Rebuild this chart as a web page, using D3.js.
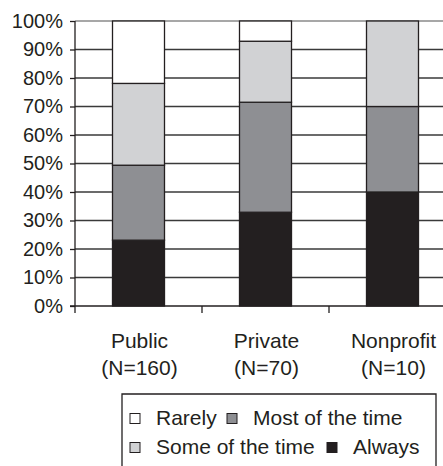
<!DOCTYPE html>
<html>
<head>
<meta charset="utf-8">
<script src="https://cdn.jsdelivr.net/npm/d3@7"></script>
<style>
  html, body { margin: 0; padding: 0; background: #fff; }
  svg text { font-family: "Liberation Sans", Arial, Helvetica, sans-serif; fill: #231f20; }
</style>
</head>
<body>
<svg id="chart" width="443" height="466"></svg>
<script>
// Sectors surveyed and their respondent counts
const categories = ["Public", "Private", "Nonprofit"];
const sampleSizes = ["(N=160)", "(N=70)", "(N=10)"];

// Share of respondents per answer (percent), stacked bottom to top
const always        = [23.1, 32.9, 40];
const mostOfTheTime = [26.3, 38.6, 30];
const someOfTheTime = [28.7, 21.4, 30];
const rarely        = [21.9, 7.1, 0];

const yTicks = [0, 10, 20, 30, 40, 50, 60, 70, 80, 90, 100];

const seriesKeys = ["Always", "Most of the time", "Some of the time", "Rarely"];
const seriesColors = {
  "Always": "#231f20",
  "Most of the time": "#8e8f93",
  "Some of the time": "#d1d2d4",
  "Rarely": "#ffffff"
};

const rows = categories.map((c, i) => ({
  category: c,
  "Always": always[i],
  "Most of the time": mostOfTheTime[i],
  "Some of the time": someOfTheTime[i],
  "Rarely": rarely[i]
}));

const svg = d3.select("#chart");
const ink = "#231f20";

const plot = { left: 75, top: 21, bottom: 306, bandWidth: 127 };
const x = d3.scaleBand()
  .domain(categories)
  .range([plot.left, plot.left + plot.bandWidth * categories.length])
  .paddingInner(0)
  .paddingOuter(0);
const y = d3.scaleLinear().domain([0, 100]).range([plot.bottom, plot.top]);
const barWidth = 52;

// Horizontal gridlines
svg.append("g")
  .selectAll("line")
  .data(yTicks.filter(t => t > 0))
  .join("line")
  .attr("x1", plot.left)
  .attr("x2", 443)
  .attr("y1", d => y(d))
  .attr("y2", d => y(d))
  .attr("stroke", d => d === 100 ? "#8a8a8a" : "#3a3a3a")
  .attr("stroke-width", 1.3);

// Stacked bars
const stack = d3.stack().keys(seriesKeys)(rows);
svg.append("g")
  .selectAll("g")
  .data(stack)
  .join("g")
  .attr("fill", d => seriesColors[d.key])
  .selectAll("rect")
  .data(d => d.filter(p => p[1] - p[0] > 0))
  .join("rect")
  .attr("x", d => x(d.data.category) + (x.bandwidth() - barWidth) / 2)
  .attr("width", barWidth)
  .attr("y", d => y(d[1]))
  .attr("height", d => y(d[0]) - y(d[1]))
  .attr("stroke", ink)
  .attr("stroke-width", 1.3);

// Y axis
const yAxis = svg.append("g")
  .attr("transform", `translate(${plot.left},0)`)
  .call(d3.axisLeft(y).tickValues(yTicks).tickFormat(d => d + "%").tickSize(5).tickPadding(7));
yAxis.select(".domain").remove();
yAxis.selectAll(".tick line").attr("stroke", ink).attr("stroke-width", 1.3);
yAxis.selectAll(".tick text")
  .attr("font-size", 20)
  .attr("fill", ink)
  .attr("font-family", "Liberation Sans, Arial, sans-serif");
svg.append("line")
  .attr("x1", plot.left).attr("x2", plot.left)
  .attr("y1", plot.top).attr("y2", plot.bottom + 7)
  .attr("stroke", ink).attr("stroke-width", 1.3);

// X axis baseline with ticks between categories
svg.append("line")
  .attr("x1", plot.left - 5).attr("x2", 443)
  .attr("y1", plot.bottom).attr("y2", plot.bottom)
  .attr("stroke", ink).attr("stroke-width", 1.3);
svg.append("g")
  .selectAll("line")
  .data(categories.slice(1))
  .join("line")
  .attr("x1", d => x(d)).attr("x2", d => x(d))
  .attr("y1", plot.bottom).attr("y2", plot.bottom + 7)
  .attr("stroke", ink).attr("stroke-width", 1.3);

// Category labels (two lines)
const catLabels = svg.append("g")
  .selectAll("text")
  .data(categories)
  .join("text")
  .attr("text-anchor", "middle")
  .attr("font-size", 21);
catLabels.append("tspan")
  .attr("x", d => x(d) + x.bandwidth() / 2 + 1)
  .attr("y", 348)
  .text(d => d);
catLabels.append("tspan")
  .attr("x", d => x(d) + x.bandwidth() / 2 + 1)
  .attr("y", 375)
  .text((d, i) => sampleSizes[i]);

// Legend (box runs off the bottom edge)
const legend = svg.append("g");
legend.append("path")
  .attr("d", "M122,470 L122,394 L436,394 L436,470")
  .attr("fill", "none")
  .attr("stroke", ink)
  .attr("stroke-width", 1.3);

const legendItems = [
  { key: "Rarely", sx: 130, tx: 156, row: 0 },
  { key: "Most of the time", sx: 227, tx: 253, row: 0 },
  { key: "Some of the time", sx: 130, tx: 156, row: 1 },
  { key: "Always", sx: 327, tx: 353, row: 1 }
];
const rowBaselines = [425, 454];
const li = legend.selectAll("g.item")
  .data(legendItems)
  .join("g")
  .attr("class", "item");
li.append("rect")
  .attr("x", d => d.sx)
  .attr("y", d => rowBaselines[d.row] - 11.5)
  .attr("width", 10)
  .attr("height", 10)
  .attr("fill", d => seriesColors[d.key])
  .attr("stroke", ink)
  .attr("stroke-width", 1);
li.append("text")
  .attr("x", d => d.tx)
  .attr("y", d => rowBaselines[d.row])
  .attr("font-size", 21)
  .text(d => d.key);
</script>
</body>
</html>
